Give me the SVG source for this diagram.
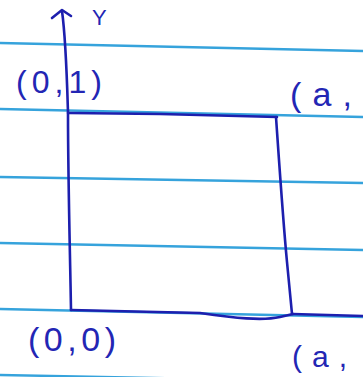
<svg xmlns="http://www.w3.org/2000/svg" width="363" height="377" viewBox="0 0 363 377">
<style>
.rule{stroke:#36a3dc;stroke-width:2.4;fill:none}
.ink{stroke:#1d1fae;stroke-width:2.6;fill:none;stroke-linecap:round;stroke-linejoin:round}
.lbl{font-family:"Liberation Sans",Arial,sans-serif;fill:#2326b4;font-weight:normal}
</style>
<rect width="363" height="377" fill="#ffffff"/>
<g id="paper-lines">
<line class="rule" x1="0" y1="43" x2="363" y2="51"/>
<line class="rule" x1="0" y1="109" x2="363" y2="117"/>
<line class="rule" x1="0" y1="177" x2="363" y2="183"/>
<line class="rule" x1="0" y1="243" x2="363" y2="250"/>
<line class="rule" x1="0" y1="309" x2="363" y2="317"/>
<line class="rule" x1="0" y1="375" x2="363" y2="382"/>
</g>
<g id="y-axis">
<path class="ink" d="M62,11 C66,40 67,80 68,113"/>
<path class="ink" d="M52,18 L62,10 L71,16"/>
<text class="lbl" x="92" y="25" font-size="22">Y</text>
</g>
<g id="square">
<path class="ink" d="M68,113 C68,180 70,250 71,310"/>
<path class="ink" d="M69,113 L160,114 L277,117" stroke="#2a2cb0"/>
<path class="ink" d="M276,117 C279,160 283,220 287,262 L292,314"/>
<path class="ink" d="M71,310 L200,313 C235,318 262,321 280,317 L293,314"/>
<path class="ink" stroke-width="1.6" d="M293,314 L363,316"/>
</g>
<g id="labels">
<text class="lbl" x="16" y="93" font-size="32" textLength="86" lengthAdjust="spacing">(0,1)</text>
<text class="lbl" x="290" y="106" font-size="34" textLength="62" lengthAdjust="spacing">(a,</text>
<text class="lbl" x="28" y="351" font-size="34" textLength="88" lengthAdjust="spacing">(0,0)</text>
<text class="lbl" x="292" y="367" font-size="30" textLength="55" lengthAdjust="spacing">(a,</text>
</g>
</svg>
